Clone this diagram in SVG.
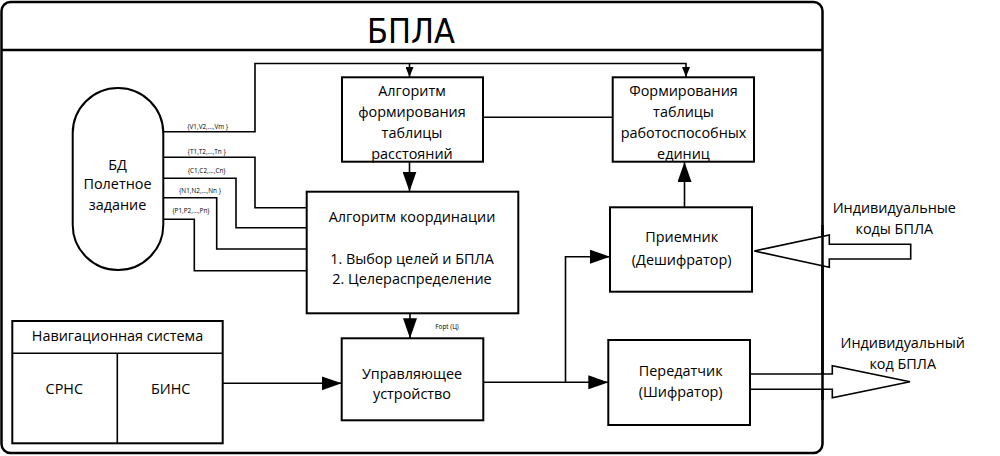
<svg xmlns="http://www.w3.org/2000/svg" width="1000" height="456" viewBox="0 0 1000 456">
<style>
.box{fill:#fff;stroke:#000;stroke-width:2}
.ln{fill:none;stroke:#000;stroke-width:1.6}
.t{font-family:"Open Sans","Noto Sans","DejaVu Sans",sans-serif;font-size:14.4px;fill:#000;text-anchor:middle}
.s{font-family:"Open Sans","Noto Sans","DejaVu Sans",sans-serif;font-size:6.4px;fill:#000;text-anchor:middle}
</style>
<defs>
<marker id="big" viewBox="0 0 20 14" refX="20" refY="7" markerWidth="20" markerHeight="14" markerUnits="userSpaceOnUse" orient="auto"><path d="M0,0 L20,7 L0,14 z" fill="#000"/></marker>
<marker id="sm" viewBox="0 0 10 8" refX="10" refY="4" markerWidth="10" markerHeight="8" markerUnits="userSpaceOnUse" orient="auto"><path d="M0,0 L10,4 L0,8 z" fill="#000"/></marker>
</defs>
<rect width="1000" height="456" fill="#fff"/>
<g id="frame">
<rect x="1.5" y="2" width="821" height="451" rx="9" fill="none" stroke="#000" stroke-width="2.5"/>
<line x1="1.5" y1="50" x2="822.5" y2="50" stroke="#000" stroke-width="2.5"/>
<text x="411" y="43" font-family="DejaVu Sans Condensed, DejaVu Sans, sans-serif" font-size="34" font-stretch="condensed" text-anchor="middle">БПЛА</text>
</g>
<g id="connectors">
<polyline class="ln" points="163,131.7 255,131.7 255,63.5 409.5,63.5 409.5,77" marker-end="url(#sm)"/>
<polyline class="ln" points="409.5,63.5 686,63.5 686,77" marker-end="url(#sm)"/>
<polyline class="ln" points="163,157.3 255,157.3 255,207.7 307,207.7"/>
<polyline class="ln" points="163,178.3 236,178.3 236,227.7 307,227.7"/>
<polyline class="ln" points="163,197.7 216.7,197.7 216.7,249 307,249"/>
<polyline class="ln" points="163,219.3 194.3,219.3 194.3,270.7 307,270.7"/>
<line class="ln" x1="483" y1="117.3" x2="613" y2="117.3"/>
<line class="ln" x1="409.5" y1="162" x2="409.5" y2="191.5" marker-end="url(#big)"/>
<line class="ln" x1="410" y1="313" x2="410" y2="338.3" marker-end="url(#big)"/>
<line class="ln" x1="684.5" y1="207" x2="684.5" y2="162" marker-end="url(#big)"/>
<line class="ln" x1="222.7" y1="383.3" x2="341.7" y2="383.3" marker-end="url(#big)"/>
<line class="ln" x1="483.3" y1="382.3" x2="608.3" y2="382.3" marker-end="url(#big)"/>
<polyline class="ln" points="565.5,382.3 565.5,256.7 610,256.7" marker-end="url(#big)"/>
<path d="M754.3,251 L829.3,235 L829.3,244.3 L910.7,244.3 L910.7,259 L829.3,259 L829.3,267.3 Z" fill="#fff" stroke="#000" stroke-width="1.6"/>
<path d="M750,374 L832.3,374 L832.3,365.7 L910,381.7 L832.3,397.7 L832.3,389.3 L750,389.3" fill="#fff" stroke="#000" stroke-width="1.6"/>
<line x1="822.5" y1="225" x2="822.5" y2="400" stroke="#000" stroke-width="2.5"/>
<text class="s" x="207.7" y="128.7">{V1,V2,...,Vm }</text>
<text class="s" x="206.7" y="153.7">{T1,T2,...,Tn }</text>
<text class="s" x="206.7" y="172.7">{C1,C2,...,Cn}</text>
<text class="s" x="200" y="193">{N1,N2,...,Nn }</text>
<text class="s" x="191" y="213">{P1,P2,...,Pn}</text>
<text class="s" x="447" y="329.3">Fopt (Ц)</text>
<text class="t" x="894.3" y="213.3">Индивидуальные</text>
<text class="t" x="894.3" y="234.3">коды БПЛА</text>
<text class="t" x="902.7" y="348.3">Индивидуальный</text>
<text class="t" x="902.7" y="369.3">код БПЛА</text>
</g>
<g id="bd">
<rect class="box" x="72.7" y="88" width="90.6" height="182" rx="45.3"/>
<text class="t" x="117.5" y="170" font-size="15">БД</text>
<text class="t" x="117.5" y="189" font-size="15">Полетное</text>
<text class="t" x="117.5" y="210" font-size="15">задание</text>
</g>
<g id="alg-dist">
<rect class="box" x="342" y="77.3" width="141" height="84.4"/>
<text class="t" x="412" y="96">Алгоритм</text>
<text class="t" x="412" y="117">формирования</text>
<text class="t" x="412" y="138">таблицы</text>
<text class="t" x="412" y="159">расстояний</text>
</g>
<g id="form-table">
<rect class="box" x="612.7" y="77.3" width="141.3" height="84.4"/>
<text class="t" x="683.5" y="96">Формирования</text>
<text class="t" x="683.5" y="117">таблицы</text>
<text class="t" x="683.5" y="138">работоспособных</text>
<text class="t" x="683.5" y="159">единиц</text>
</g>
<g id="coord">
<rect class="box" x="306.7" y="191.7" width="211.6" height="121.6"/>
<text class="t" x="412" y="222">Алгоритм координации</text>
<text class="t" x="412" y="264">1. Выбор целей и БПЛА</text>
<text class="t" x="412" y="284">2. Целераспределение</text>
</g>
<g id="control">
<rect class="box" x="341.7" y="338.3" width="141.6" height="82"/>
<text class="t" x="412" y="379">Управляющее</text>
<text class="t" x="412" y="399">устройство</text>
</g>
<g id="receiver">
<rect class="box" x="610" y="207.3" width="142" height="84.4"/>
<text class="t" x="681.7" y="242">Приемник</text>
<text class="t" x="681.7" y="265">(Дешифратор)</text>
</g>
<g id="transmitter">
<rect class="box" x="608.3" y="340" width="141.7" height="85"/>
<text class="t" x="680.7" y="376">Передатчик</text>
<text class="t" x="680.7" y="397">(Шифратор)</text>
</g>
<g id="nav">
<rect class="box" x="12.3" y="321" width="210.4" height="122.3"/>
<line x1="12.3" y1="353.3" x2="222.7" y2="353.3" stroke="#000" stroke-width="1.6"/>
<line x1="117.3" y1="353.3" x2="117.3" y2="443.3" stroke="#000" stroke-width="1.6"/>
<text class="t" x="117.5" y="340.7">Навигационная система</text>
<text class="t" x="64.3" y="394.3">СРНС</text>
<text class="t" x="170.7" y="394.3">БИНС</text>
</g>
</svg>
